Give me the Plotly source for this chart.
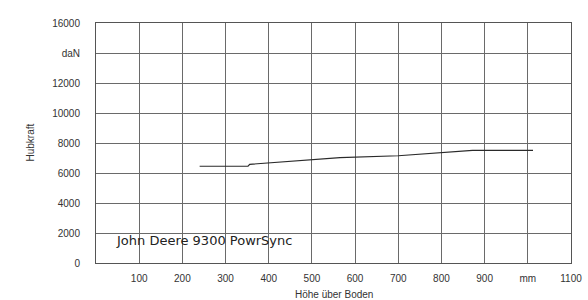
import plotly.graph_objects as go

# Data (Höhe über Boden in mm, Hubkraft in daN)
hoehe_mm = [240, 352, 356, 420, 480, 565, 700, 810, 872, 1012]
hubkraft_dan = [6450, 6450, 6580, 6710, 6870, 7020, 7150, 7350, 7510, 7510]

x_tick_vals = [100, 200, 300, 400, 500, 600, 700, 800, 900, 1000, 1100]
x_tick_text = ["100", "200", "300", "400", "500", "600", "700", "800", "900", "mm", "1100"]
y_tick_vals = [0, 2000, 4000, 6000, 8000, 10000, 12000, 14000, 16000]
y_tick_text = ["0", "2000", "4000", "6000", "8000", "10000", "12000", "daN", "16000"]

series_label = "John Deere 9300 PowrSync"
x_title = "Höhe über Boden"
y_title = "Hubkraft"

FONT = "Liberation Sans, Arial, sans-serif"

fig = go.Figure()
fig.add_trace(go.Scatter(
    x=hoehe_mm, y=hubkraft_dan, mode="lines",
    line=dict(color="#2a2a2a", width=1.2), showlegend=False, hoverinfo="skip"))

axis_font = dict(family=FONT, size=10, color="#333333")

fig.update_xaxes(
    range=[0, 1100], tickvals=x_tick_vals, ticktext=x_tick_text,
    showgrid=True, gridcolor="#6a6a6a", gridwidth=1,
    showline=True, linecolor="#555555", linewidth=1, mirror=True,
    ticks="outside", ticklen=6, tickcolor="rgba(0,0,0,0)",
    tickfont=axis_font, zeroline=False, fixedrange=True,
    automargin=False)
fig.update_yaxes(
    range=[0, 16000], tickvals=y_tick_vals, ticktext=y_tick_text,
    showgrid=True, gridcolor="#6a6a6a", gridwidth=1,
    showline=True, linecolor="#555555", linewidth=1, mirror=True,
    ticks="outside", ticklen=13, tickcolor="rgba(0,0,0,0)",
    tickfont=axis_font, zeroline=False, fixedrange=True,
    automargin=False)

fig.add_annotation(x=42, y=1530, xref="x", yref="y", text=series_label,
                   showarrow=False, xanchor="left", yanchor="middle",
                   font=dict(family="DejaVu Sans, sans-serif", size=13, color="#222222"))
fig.add_annotation(x=0.5, y=-0.1, xref="paper", yref="paper", text=x_title,
                   showarrow=False, xanchor="center", yanchor="top",
                   font=dict(family=FONT, size=10, color="#333333"))
fig.add_annotation(x=-0.14, y=0.5, xref="paper", yref="paper", text=y_title,
                   showarrow=False, textangle=-90, xanchor="center", yanchor="middle",
                   font=dict(family=FONT, size=10, color="#333333"))

fig.update_layout(
    width=588, height=300,
    margin=dict(l=96, r=17, t=23, b=37),
    paper_bgcolor="white", plot_bgcolor="white")

fig.write_html("out.html", config={"displayModeBar": False},
               post_script="document.body.style.margin='0';")
